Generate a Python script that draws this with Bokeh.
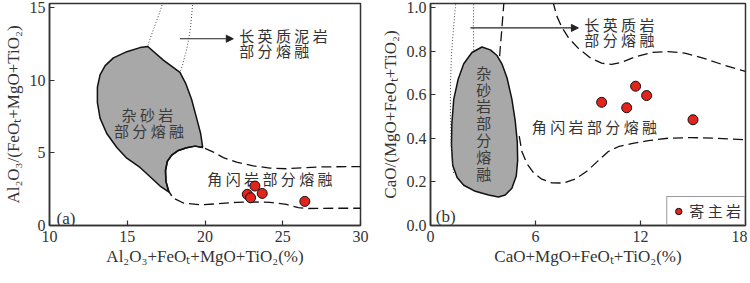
from bokeh.plotting import figure
from bokeh.layouts import row
from bokeh.models import FixedTicker, NumeralTickFormatter, Arrow, NormalHead, Legend, LegendItem, Range1d
from bokeh.core.properties import value
from bokeh.embed import file_html
from bokeh.resources import INLINE

# ---------------- Panel (a) data ----------------
a_host_x = [23.21, 22.72, 22.93, 23.68, 26.42]
a_host_y = [2.72, 2.15, 1.91, 2.21, 1.66]

a_grey_x = [16.32, 17.32, 18.39, 18.78, 19.14, 19.46, 19.72, 19.85, 19.36, 18.82, 18.29, 17.86,
            17.58, 17.45, 17.49, 17.69, 17.11, 16.47, 15.82, 14.97, 14.33, 13.68, 13.25, 13.08,
            13.08, 13.25, 13.58, 14.11, 14.97, 15.82]
a_grey_y = [12.34, 11.40, 10.55, 9.74, 8.68, 7.40, 6.34, 5.38, 5.47, 5.36, 5.17, 4.85,
            4.43, 3.79, 3.04, 2.30, 2.72, 3.36, 4.00, 4.64, 5.38, 6.34, 7.40, 8.47,
            9.53, 10.38, 11.02, 11.55, 11.98, 12.26]

a_hbl_solid_x = [19.85, 19.36, 18.82, 18.29, 17.86, 17.58, 17.47, 17.49, 17.64, 17.86]
a_hbl_solid_y = [5.38, 5.47, 5.36, 5.17, 4.85, 4.43, 3.79, 3.04, 2.40, 2.04]

a_hbl_upper_x = [20.0, 20.54, 21.18, 22.03, 23.10, 24.17, 25.25, 26.32, 27.39, 30.0]
a_hbl_upper_y = [5.32, 5.06, 4.68, 4.36, 4.11, 3.96, 3.91, 3.98, 4.04, 4.06]

a_hbl_lower_x = [18.07, 18.61, 19.68, 20.75, 22.03, 23.32, 24.18, 25.25, 26.0, 26.53, 28.46, 30.0]
a_hbl_lower_y = [1.83, 1.55, 1.43, 1.49, 1.60, 1.62, 1.60, 1.45, 1.23, 1.17, 1.19, 1.19]

a_pel_left_x = [17.30, 17.07, 16.85, 16.60, 16.42, 16.32]
a_pel_left_y = [15.40, 14.64, 14.00, 13.26, 12.72, 12.34]
a_pel_right_x = [19.21, 19.14, 19.06, 18.93, 18.76, 18.57, 18.39]
a_pel_right_y = [15.40, 14.43, 13.57, 12.72, 11.87, 11.13, 10.55]

a_arrow = [18.39, 12.87, 21.82, 12.87]

a_xticks = [10, 15, 20, 25, 30]
a_yticks = [0, 5, 10, 15]

# ---------------- Panel (b) data ----------------
b_host_x = [9.78, 11.21, 11.72, 12.35, 15.0]
b_host_y = [0.566, 0.541, 0.640, 0.597, 0.486]

b_grey_x = [2.94, 3.42, 3.80, 4.08, 4.37, 4.65, 4.84, 4.96, 4.98, 4.90, 4.65, 4.27, 3.89, 3.32,
            2.56, 1.90, 1.52, 1.27, 1.20, 1.22, 1.33, 1.58, 1.90, 2.37]
b_grey_y = [0.820, 0.807, 0.781, 0.743, 0.679, 0.581, 0.482, 0.383, 0.298, 0.227, 0.171, 0.140,
            0.131, 0.140, 0.157, 0.185, 0.220, 0.277, 0.369, 0.468, 0.581, 0.672, 0.743, 0.795]

b_pel_left_x = [1.45, 1.33, 1.20, 1.14, 1.14, 1.18, 1.27, 1.33]
b_pel_left_y = [1.03, 0.92, 0.79, 0.65, 0.51, 0.37, 0.27, 0.24]
b_pel_right_x = [2.47, 2.45, 2.47]
b_pel_right_y = [1.03, 0.92, 0.804]

b_hbl_top_x = [4.20, 4.12, 4.05, 3.99, 3.95]
b_hbl_top_y = [1.03, 0.948, 0.877, 0.82, 0.778]

b_hbl_lower_x = [5.07, 5.22, 5.51, 5.89, 6.36, 6.93, 7.60, 8.26, 8.93, 9.59, 10.16, 10.73,
                 11.49, 12.44, 13.58, 14.91, 16.24, 18.0]
b_hbl_lower_y = [0.411, 0.340, 0.284, 0.242, 0.213, 0.196, 0.195, 0.213, 0.249, 0.298, 0.340, 0.362,
                 0.376, 0.390, 0.401, 0.404, 0.401, 0.394]

b_hbl_upper_x = [6.99, 7.22, 7.50, 7.88, 8.45, 9.12, 9.78, 10.35, 10.92, 11.68, 12.63, 13.58,
                 14.53, 15.67, 16.81, 18.0]
b_hbl_upper_y = [1.03, 0.962, 0.912, 0.863, 0.814, 0.771, 0.746, 0.740, 0.750, 0.774, 0.795, 0.799,
                 0.792, 0.767, 0.736, 0.708]

b_arrow = [2.28, 0.908, 8.45, 0.908]

b_xticks = [0, 6, 12, 18]
b_yticks = [0, 0.2, 0.4, 0.6, 0.8, 1.0]

# ---------------- styles ----------------
SERIF = "Liberation Serif"
CJK = "Noto Sans CJK SC"
DARK = "#333333"
GREY = "#a8a8a8"
RED = "#e3241d"
DASH = "10 5"
DOT = "1 2"


def make_fig(fw, xr, yr, xticks, yticks, xlabel, ylabel, mbl, mbr):
    p = figure(frame_width=fw, frame_height=222, x_range=Range1d(*xr), y_range=Range1d(*yr),
               output_backend="svg", toolbar_location=None,
               min_border_left=mbl, min_border_right=mbr, min_border_top=3, min_border_bottom=30)
    p.xgrid.visible = False
    p.ygrid.visible = False
    p.outline_line_color = DARK
    p.outline_line_width = 1.5
    p.background_fill_color = "white"
    p.border_fill_color = "white"
    p.xaxis.ticker = FixedTicker(ticks=xticks)
    p.yaxis.ticker = FixedTicker(ticks=yticks)
    p.xaxis.axis_label = xlabel
    p.yaxis.axis_label = ylabel
    for ax in (p.xaxis[0], p.yaxis[0]):
        ax.major_tick_in = 5
        ax.major_tick_out = 0
        ax.major_tick_line_color = DARK
        ax.major_tick_line_width = 1.2
        ax.minor_tick_line_color = None
        ax.axis_line_color = DARK
        ax.axis_line_width = 1.5
        ax.major_label_text_font = SERIF
        ax.major_label_text_font_size = "16px"
        ax.major_label_text_color = DARK
        ax.axis_label_text_font = SERIF
        ax.axis_label_text_font_size = "17px"
        ax.axis_label_text_font_style = "normal"
        ax.axis_label_text_color = DARK
    p.xaxis.major_label_standoff = 5
    p.xaxis.axis_label_standoff = 2
    p.yaxis.major_label_standoff = 4
    p.yaxis.axis_label_standoff = 4
    return p


def add_text(p, xs, ys, texts, align="left", size="15px", color=DARK, font=CJK, line_height=1.2):
    p.text(x=xs, y=ys, text=texts, text_font=value(font), text_font_size=size,
           text_color=color, text_align=align, text_baseline="middle", text_line_height=line_height)


def add_arrow(p, coords):
    p.add_layout(Arrow(end=NormalHead(size=7, fill_color="#222222", line_color="#222222"),
                       x_start=coords[0], y_start=coords[1], x_end=coords[2], y_end=coords[3],
                       line_color="#222222", line_width=1.2))


# ---------------- Panel (a) ----------------
pa = make_fig(311, (10, 30), (0, 15.3), a_xticks, a_yticks,
              "Al₂O₃+FeOₜ+MgO+TiO₂(%)", "Al₂O₃/(FeOₜ+MgO+TiO₂)", 38, 17)

pa.patch(a_grey_x, a_grey_y, fill_color=GREY, line_color="#111111", line_width=1.5)
pa.line(a_hbl_solid_x, a_hbl_solid_y, line_color="#111111", line_width=1.5)
pa.line(a_hbl_upper_x, a_hbl_upper_y, line_color="#111111", line_width=1.3, line_dash=DASH)
pa.line(a_hbl_lower_x, a_hbl_lower_y, line_color="#111111", line_width=1.3, line_dash=DASH)
pa.line(a_pel_left_x, a_pel_left_y, line_color="#444444", line_width=1, line_dash=DOT)
pa.line(a_pel_right_x, a_pel_right_y, line_color="#444444", line_width=1, line_dash=DOT)
add_arrow(pa, a_arrow)

add_text(pa, [22.2, 22.2], [13.1, 12.04], ["长 英 质 泥 岩", "部 分 熔 融"])
add_text(pa, [16.3, 16.4], [7.62, 6.55], ["杂 砂 岩", "部 分 熔 融"], align="center", color="#3a3a3a")
add_text(pa, [20.15], [3.26], ["角 闪 岩 部 分 熔 融"])
add_text(pa, [10.45], [0.5], ["(a)"], font=SERIF, size="17px")

pa.scatter(a_host_x, a_host_y, size=10, fill_color=RED, line_color="#111111", line_width=1)

# ---------------- Panel (b) ----------------
pb = make_fig(315, (0, 18), (0, 1.02), b_xticks, b_yticks,
              "CaO+MgO+FeOₜ+TiO₂(%)", "CaO/(MgO+FeOₜ+TiO₂)", 46, 2)
pb.yaxis.formatter = NumeralTickFormatter(format="0.0")

pb.patch(b_grey_x, b_grey_y, fill_color=GREY, line_color="#111111", line_width=1.5)
pb.line(b_pel_left_x, b_pel_left_y, line_color="#444444", line_width=1, line_dash=DOT)
pb.line(b_pel_right_x, b_pel_right_y, line_color="#444444", line_width=1, line_dash=DOT)
pb.line(b_hbl_top_x, b_hbl_top_y, line_color="#111111", line_width=1.3, line_dash=DASH)
pb.line(b_hbl_lower_x, b_hbl_lower_y, line_color="#111111", line_width=1.3, line_dash=DASH)
pb.line(b_hbl_upper_x, b_hbl_upper_y, line_color="#111111", line_width=1.3, line_dash=DASH)
add_arrow(pb, b_arrow)

add_text(pb, [8.79, 8.79], [0.924, 0.856], ["长 英 质 岩", "部 分 熔 融"])
add_text(pb, [3.04], [0.472], ["杂\n砂\n岩\n部\n分\n熔\n融"], align="center", color="#3a3a3a",
         line_height=0.8)
add_text(pb, [5.79], [0.453], ["角 闪 岩 部 分 熔 融"])
add_text(pb, [0.3], [0.04], ["(b)"], font=SERIF, size="17px")

rb = pb.scatter(b_host_x, b_host_y, size=10, fill_color=RED, line_color="#111111", line_width=1)

legend = Legend(items=[LegendItem(label="寄 主 岩", renderers=[rb])], location="bottom_right")
legend.margin = 0
legend.padding = 3
legend.spacing = 0
legend.border_line_color = DARK
legend.border_line_width = 1.3
legend.background_fill_alpha = 1
legend.label_text_font = CJK
legend.label_text_font_size = "15px"
legend.label_text_color = DARK
legend.glyph_width = 16
legend.glyph_height = 18
legend.label_height = 18
legend.label_standoff = 3
pb.add_layout(legend)

layout = row(pa, pb)
open("out.html", "w").write(file_html(layout, INLINE))
